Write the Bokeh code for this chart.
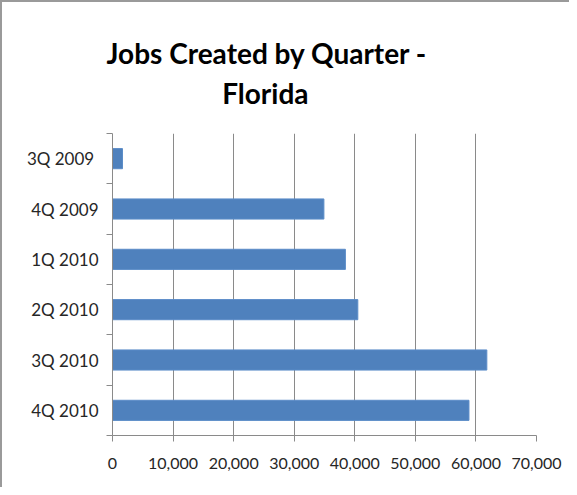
from bokeh.plotting import figure
from bokeh.models import Range1d, FixedTicker, NumeralTickFormatter
from bokeh.embed import file_html
from bokeh.resources import INLINE

quarters = ["3Q  2009", "4Q 2009", "1Q 2010", "2Q 2010", "3Q 2010", "4Q 2010"]
jobs = [1650, 34900, 38450, 40500, 61800, 58850]
x_ticks = [0, 10000, 20000, 30000, 40000, 50000, 60000, 70000]
title_lines = ["Jobs Created by Quarter -", "Florida"]

FONT = "Lato"
TXT = "#262626"
GRID = "#8a8a8a"

n = len(quarters)
ypos = [i + 0.5 for i in range(n)]

p = figure(width=569, height=487, output_backend="svg", toolbar_location=None,
           x_range=Range1d(0, 70000), y_range=Range1d(n, 0),
           min_border_left=110, min_border_right=35, min_border_top=131,
           min_border_bottom=54)

p.hbar(y=ypos, right=jobs, left=0, height=0.4, fill_color="#4F81BD",
       line_color="#5b8cc8", line_width=1)

# multi-line title; second line is padded with no-break spaces to sit centred
pad = "\u00a0" * 17
p.title.text = title_lines[0] + "\n" + pad + title_lines[1]
p.title.align = "left"
p.title.offset = -6
p.title.text_font = FONT
p.title.text_font_size = "28px"
p.title.text_font_style = "bold"
p.title.text_color = "#000000"
p.title.text_line_height = 1.2
p.title.standoff = 46

# x axis
xa = p.xaxis[0]
xa.ticker = FixedTicker(ticks=x_ticks)
xa.formatter = NumeralTickFormatter(format="0,0")
xa.axis_line_color = GRID
xa.major_tick_line_color = GRID
xa.major_tick_out = 6
xa.major_tick_in = 0
xa.minor_tick_line_color = None
xa.major_label_text_font = FONT
xa.major_label_text_font_size = "16px"
xa.major_label_text_color = TXT
xa.major_label_standoff = 16

# y axis
ya = p.yaxis[0]
ya.ticker = FixedTicker(ticks=ypos, minor_ticks=list(range(n + 1)))
ya.major_label_overrides = {y: q for y, q in zip(ypos, quarters)}
ya.axis_line_color = GRID
ya.major_tick_line_color = None
ya.major_tick_out = 0
ya.major_tick_in = 0
ya.minor_tick_line_color = GRID
ya.minor_tick_out = 6
ya.minor_tick_in = 0
ya.major_label_text_font = FONT
ya.major_label_text_font_size = "17px"
ya.major_label_text_color = TXT
ya.major_label_standoff = 8

p.xgrid.ticker = FixedTicker(ticks=x_ticks[1:])
p.xgrid.grid_line_color = GRID
p.ygrid.grid_line_color = None
p.outline_line_color = None
p.styles = {"border-left": "2px solid #9a9a9a", "border-top": "2px solid #9a9a9a"}

open("out.html", "w").write(file_html(p, INLINE))
